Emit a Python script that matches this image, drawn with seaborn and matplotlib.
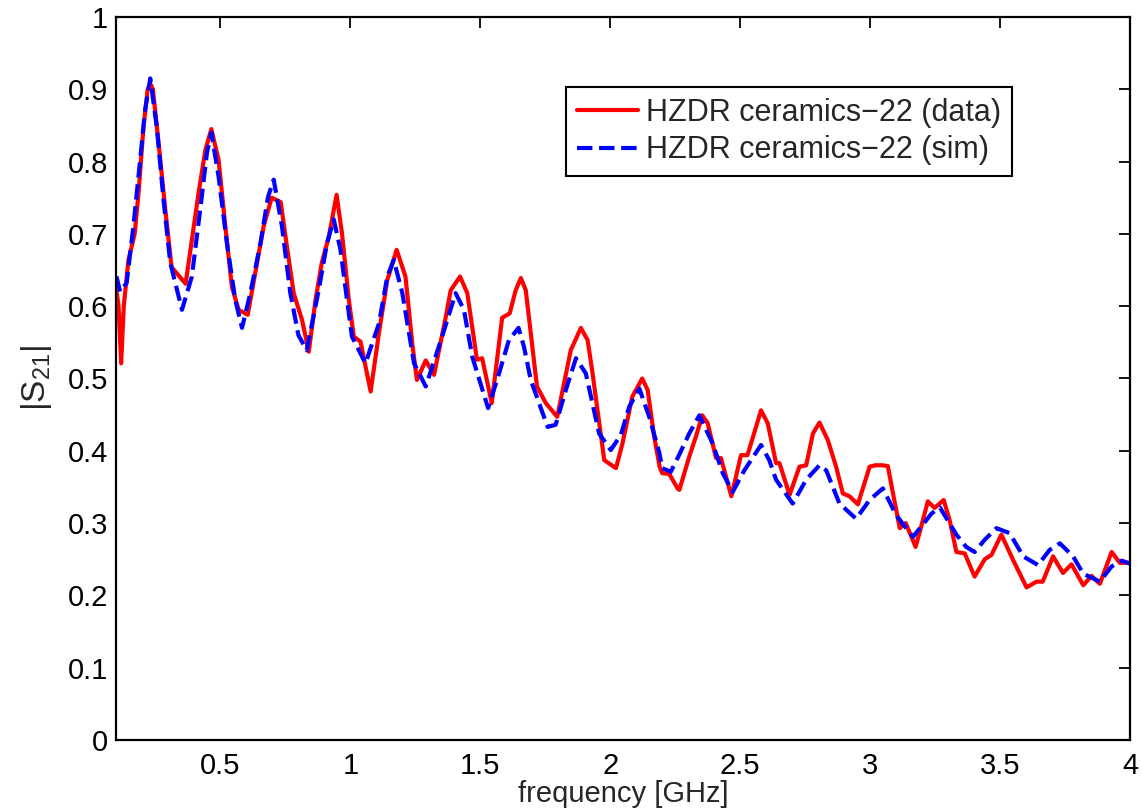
import matplotlib
matplotlib.use("Agg")
import matplotlib.pyplot as plt
import seaborn as sns
import pandas as pd

# ---- data ----
freq_data = [0.10, 0.108, 0.118, 0.128, 0.146, 0.17, 0.185, 0.204, 0.22, 0.23, 0.24, 0.262, 0.288,
             0.312, 0.366, 0.416, 0.442, 0.465, 0.493, 0.519, 0.544, 0.57, 0.605, 0.634, 0.666,
             0.697, 0.732, 0.756, 0.782, 0.814, 0.84, 0.866, 0.89, 0.917, 0.947, 0.968, 0.994,
             1.013, 1.039, 1.078, 1.11, 1.142, 1.178, 1.212, 1.238, 1.256, 1.29, 1.322, 1.367,
             1.386, 1.422, 1.45, 1.487, 1.507, 1.544, 1.584, 1.613, 1.636, 1.656, 1.675, 1.694,
             1.718, 1.752, 1.796, 1.848, 1.887, 1.913, 1.93, 1.977, 2.022, 2.047, 2.085, 2.123,
             2.144, 2.169, 2.19, 2.2, 2.227, 2.259, 2.266, 2.304, 2.33, 2.354, 2.375, 2.407,
             2.426, 2.466, 2.503, 2.528, 2.561, 2.58, 2.606, 2.638, 2.651, 2.69, 2.728, 2.754,
             2.78, 2.805, 2.837, 2.869, 2.895, 2.921, 2.953, 2.998, 3.02, 3.045, 3.068, 3.088,
             3.114, 3.137, 3.175, 3.203, 3.222, 3.248, 3.283, 3.306, 3.332, 3.364, 3.402, 3.441,
             3.467, 3.505, 3.55, 3.602, 3.64, 3.664, 3.704, 3.742, 3.775, 3.82, 3.852, 3.884,
             3.929, 3.961, 4.0]
s21_data = [0.622, 0.60, 0.521, 0.60, 0.664, 0.70, 0.757, 0.848, 0.90, 0.908, 0.90, 0.826, 0.733,
            0.654, 0.631, 0.757, 0.816, 0.845, 0.802, 0.71, 0.627, 0.595, 0.588, 0.646, 0.71,
            0.75, 0.744, 0.682, 0.618, 0.581, 0.537, 0.609, 0.66, 0.696, 0.754, 0.70, 0.609,
            0.558, 0.551, 0.482, 0.563, 0.636, 0.678, 0.641, 0.549, 0.498, 0.525, 0.505, 0.585,
            0.622, 0.641, 0.618, 0.526, 0.528, 0.466, 0.584, 0.59, 0.622, 0.639, 0.622, 0.563,
            0.489, 0.466, 0.447, 0.539, 0.57, 0.553, 0.512, 0.387, 0.376, 0.41, 0.475, 0.50,
            0.484, 0.42, 0.378, 0.369, 0.368, 0.348, 0.346, 0.392, 0.42, 0.449, 0.438, 0.39,
            0.39, 0.337, 0.394, 0.394, 0.433, 0.456, 0.438, 0.383, 0.383, 0.339, 0.378, 0.38,
            0.424, 0.439, 0.415, 0.378, 0.341, 0.337, 0.326, 0.378, 0.38, 0.38, 0.379, 0.341,
            0.293, 0.30, 0.267, 0.304, 0.33, 0.321, 0.332, 0.304, 0.26, 0.258, 0.226, 0.25,
            0.256, 0.284, 0.249, 0.211, 0.219, 0.219, 0.254, 0.231, 0.243, 0.214, 0.227, 0.216,
            0.26, 0.245, 0.245]

freq_sim = [0.10, 0.114, 0.139, 0.165, 0.191, 0.21, 0.23, 0.255, 0.281, 0.307, 0.352, 0.39, 0.422,
            0.448, 0.465, 0.493, 0.525, 0.557, 0.583, 0.615, 0.654, 0.683, 0.705, 0.737, 0.769,
            0.80, 0.832, 0.878, 0.91, 0.936, 0.962, 0.987, 1.006, 1.058, 1.11, 1.142, 1.167,
            1.20, 1.245, 1.29, 1.353, 1.405, 1.437, 1.469, 1.53, 1.572, 1.61, 1.647, 1.668,
            1.694, 1.759, 1.79, 1.829, 1.868, 1.906, 1.957, 2.002, 2.041, 2.073, 2.112, 2.15,
            2.189, 2.2, 2.233, 2.266, 2.304, 2.343, 2.394, 2.433, 2.471, 2.516, 2.58, 2.612,
            2.638, 2.702, 2.754, 2.805, 2.831, 2.882, 2.946, 2.998, 3.049, 3.1, 3.165, 3.236,
            3.268, 3.332, 3.37, 3.402, 3.441, 3.486, 3.537, 3.589, 3.646, 3.691, 3.73, 3.781,
            3.82, 3.884, 3.929, 3.968, 4.0]
s21_sim = [0.641, 0.62, 0.632, 0.71, 0.802, 0.871, 0.915, 0.848, 0.747, 0.66, 0.595, 0.641, 0.733,
           0.812, 0.84, 0.779, 0.687, 0.609, 0.57, 0.618, 0.687, 0.751, 0.775, 0.71, 0.618,
           0.56, 0.539, 0.622, 0.687, 0.72, 0.678, 0.609, 0.558, 0.521, 0.576, 0.641, 0.664,
           0.618, 0.521, 0.489, 0.558, 0.618, 0.595, 0.53, 0.459, 0.507, 0.553, 0.57, 0.544,
           0.498, 0.433, 0.436, 0.484, 0.528, 0.507, 0.424, 0.401, 0.422, 0.461, 0.486, 0.447,
           0.397, 0.376, 0.371, 0.395, 0.424, 0.449, 0.41, 0.369, 0.343, 0.373, 0.408, 0.387,
           0.36, 0.327, 0.36, 0.38, 0.373, 0.327, 0.306, 0.332, 0.348, 0.311, 0.281, 0.313,
           0.322, 0.284, 0.267, 0.26, 0.277, 0.293, 0.286, 0.254, 0.242, 0.263, 0.272, 0.254,
           0.23, 0.219, 0.24, 0.248, 0.244]

label_data = "HZDR ceramics\u221222 (data)"
label_sim = "HZDR ceramics\u221222 (sim)"
x_ticks = [0.5, 1, 1.5, 2, 2.5, 3, 3.5, 4]
x_tick_labels = ["0.5", "1", "1.5", "2", "2.5", "3", "3.5", "4"]
y_ticks = [0, 0.1, 0.2, 0.3, 0.4, 0.5, 0.6, 0.7, 0.8, 0.9, 1]
y_tick_labels = ["0", "0.1", "0.2", "0.3", "0.4", "0.5", "0.6", "0.7", "0.8", "0.9", "1"]

sns.set_style("white")
plt.rcParams["font.family"] = ["Liberation Sans", "DejaVu Sans"]
plt.rcParams["mathtext.default"] = "regular"

fig = plt.figure(figsize=(11.42, 8.09), dpi=100)
ax = fig.add_axes([0.102, 0.0853, 0.8875, 0.8937])

df_data = pd.DataFrame({"freq": freq_data, "s21": s21_data})
df_sim = pd.DataFrame({"freq": freq_sim, "s21": s21_sim})

sns.lineplot(data=df_data, x="freq", y="s21", ax=ax, color="#ff0000", linewidth=3.0,
             label=label_data, solid_joinstyle="round", solid_capstyle="round")
sns.lineplot(data=df_sim, x="freq", y="s21", ax=ax, color="#0000ff", linewidth=3.0,
             linestyle="--", label=label_sim, dash_joinstyle="round")

ax.set_xlim(0.1, 4.0)
ax.set_ylim(0, 1)
ax.set_xticks(x_ticks)
ax.set_xticklabels(x_tick_labels, fontsize=21)
ax.set_yticks(y_ticks)
ax.set_yticklabels(y_tick_labels, fontsize=21)
ax.tick_params(direction="in", length=8, width=1.3, top=True, right=True, colors="black",
               pad=6)
ax.tick_params(axis="x", pad=9)
for sp in ax.spines.values():
    sp.set_visible(True)
    sp.set_color("black")
    sp.set_linewidth(1.6)

ax.set_xlabel("frequency [GHz]", fontsize=21, labelpad=0)
ax.set_ylabel("|S$_{21}$|", fontsize=24, labelpad=10)

leg = ax.legend(loc="upper left", bbox_to_anchor=(0.444, 0.903), fontsize=22, frameon=True,
                fancybox=False, shadow=False, handlelength=2.0, handletextpad=0.25,
                labelspacing=0.25, borderpad=0.35, borderaxespad=0)
leg.get_frame().set_edgecolor("black")
leg.get_frame().set_linewidth(1.5)
leg.get_frame().set_alpha(1)

fig.savefig("out.png", dpi=100)
